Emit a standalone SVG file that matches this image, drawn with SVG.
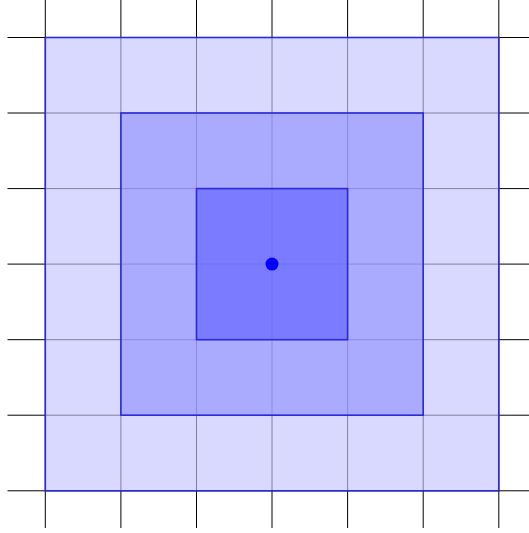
<svg xmlns="http://www.w3.org/2000/svg" width="529" height="533" viewBox="0 0 529 533">
<style>
.g{stroke:#000;stroke-width:1}
.sq{stroke:#2a2ad8;stroke-width:1.6;fill-opacity:0.65}
</style>
<rect width="529" height="533" fill="#fff"/>
<g id="grid" class="g">
<line x1="45.3" y1="0" x2="45.3" y2="528"/>
<line x1="120.9" y1="0" x2="120.9" y2="528"/>
<line x1="196.5" y1="0" x2="196.5" y2="528"/>
<line x1="272" y1="0" x2="272" y2="528"/>
<line x1="347.6" y1="0" x2="347.6" y2="528"/>
<line x1="423.2" y1="0" x2="423.2" y2="528"/>
<line x1="498.8" y1="0" x2="498.8" y2="528"/>
<line x1="7.5" y1="37.5" x2="529" y2="37.5"/>
<line x1="7.5" y1="113" x2="529" y2="113"/>
<line x1="7.5" y1="188.6" x2="529" y2="188.6"/>
<line x1="7.5" y1="264.1" x2="529" y2="264.1"/>
<line x1="7.5" y1="339.7" x2="529" y2="339.7"/>
<line x1="7.5" y1="415.2" x2="529" y2="415.2"/>
<line x1="7.5" y1="490.8" x2="529" y2="490.8"/>
</g>
<g id="outer"><rect class="sq" x="45.3" y="37.5" width="453.5" height="453.3" fill="#c4c4ff"/></g>
<g id="middle"><rect class="sq" x="120.9" y="113" width="302.3" height="302.2" fill="#9191ff"/></g>
<g id="inner"><rect class="sq" x="196.5" y="188.6" width="151.1" height="151.1" fill="#6262ff"/></g>
<g id="center"><circle cx="272" cy="264.1" r="6.5" fill="#0000ff"/></g>
</svg>
